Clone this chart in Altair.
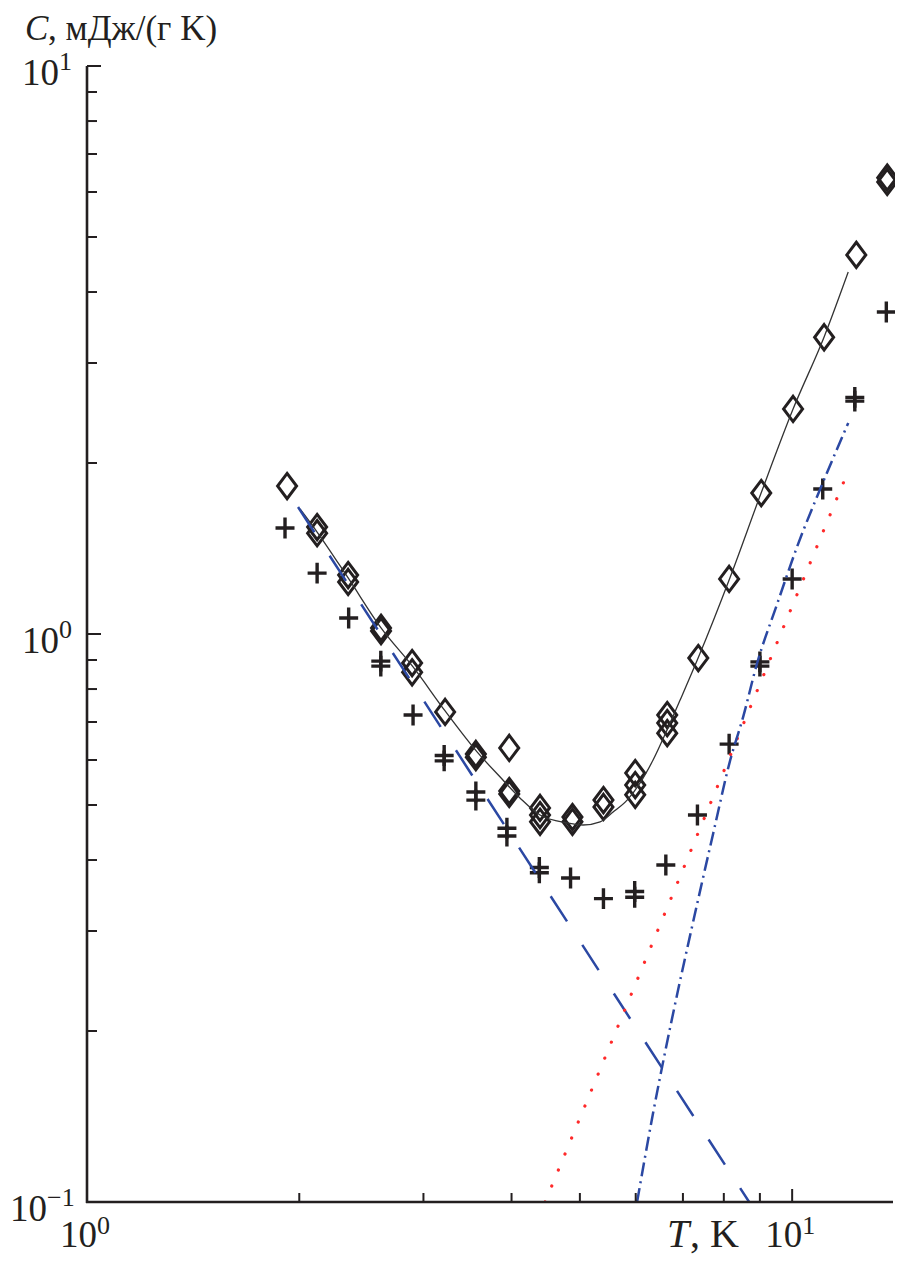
import altair as alt
import pandas as pd

FONT = "Liberation Serif"
INK = "#231f20"
BLUE = "#2b48a3"
RED = "#ff2a2a"

# --- measured points: diamonds (total heat capacity) ---
diamond_T = [1.922, 2.12, 2.12, 2.346, 2.346, 2.612, 2.612, 2.891, 2.891, 3.22,
             3.56, 3.56, 3.97, 3.97, 3.97, 4.39, 4.39, 4.39, 4.88, 4.88,
             5.40, 5.40, 5.99, 5.99, 5.99, 6.65, 6.65, 6.65, 7.36, 8.14,
             9.04, 10.03, 11.1, 12.33, 13.64, 13.64]
diamond_C = [1.822, 1.543, 1.505, 1.270, 1.235, 1.025, 1.012, 0.889, 0.856, 0.729,
             0.615, 0.607, 0.630, 0.529, 0.523, 0.494, 0.480, 0.467, 0.476, 0.467,
             0.510, 0.496, 0.569, 0.542, 0.521, 0.720, 0.697, 0.669, 0.907, 1.25,
             1.771, 2.49, 3.33, 4.65, 6.36, 6.25]

# --- measured points: crosses ---
plus_T = [1.909, 2.12, 2.35, 2.61, 2.61, 2.90, 3.21, 3.21, 3.56, 3.56,
          3.94, 3.94, 4.38, 4.38, 4.85, 5.40, 5.98, 5.98, 6.62, 7.34,
          8.14, 9.0, 9.0, 10.0, 11.05, 12.27, 12.27, 13.6]
plus_C = [1.537, 1.28, 1.067, 0.896, 0.878, 0.720, 0.611, 0.598, 0.527, 0.510,
          0.455, 0.441, 0.388, 0.380, 0.372, 0.342, 0.352, 0.344, 0.392, 0.480,
          0.640, 0.893, 0.878, 1.25, 1.80, 2.61, 2.57, 3.69]

# --- solid fit curve ---
fit_T = [2.005, 2.120, 2.346, 2.612, 2.900, 3.220, 3.574, 3.854, 4.114, 4.390,
         4.796, 5.052, 5.342, 5.573, 5.834, 6.087, 6.350, 6.647, 6.936, 7.356,
         8.170, 9.036, 10.03, 11.10, 12.01]
fit_C = [1.660, 1.512, 1.255, 1.025, 0.875, 0.732, 0.620, 0.560, 0.514, 0.480,
         0.465, 0.461, 0.467, 0.486, 0.510, 0.547, 0.600, 0.678, 0.765, 0.907,
         1.260, 1.771, 2.489, 3.334, 4.339]

# --- blue dashed component ---
dash_T = [1.992, 8.69]
dash_C = [1.673, 0.1]

# --- red dotted component ---
dot_T = [4.463, 12.01]
dot_C = [0.1, 1.936]

# --- blue dash-dot component ---
dashdot_T = [6.027, 6.35, 6.60, 6.89, 7.21, 7.73, 8.17, 8.52, 8.92, 9.5, 10.16, 11.0, 12.01]
dashdot_C = [0.1, 0.1434, 0.1829, 0.2361, 0.3049, 0.4464, 0.600, 0.714, 0.889, 1.12, 1.423, 1.82, 2.352]

# --- ticks and labels ---
y_minor = [0.2, 0.3, 0.4, 0.5, 0.6, 0.7, 0.8, 0.9, 2, 3, 4, 5, 6, 7, 8, 9]
y_major = [1, 10]
x_minor = [2, 3, 4, 5, 6, 7, 8, 9]
x_major = [10]
x_label_vals = [1, 10]
x_label_exp = ["0", "1"]
y_label_vals = [0.1, 1, 10]
y_label_exp = ["\u22121", "0", "1"]

W, H = 806, 1136
xs = alt.Scale(type="log", domain=[1, 13.9], nice=False)
ys = alt.Scale(type="log", domain=[0.1, 10], nice=False)

diamond_path = "M0,-1.33L1,0L0,1.33L-1,0Z"
plus_path = "M-1,0L1,0M0,-1.1L0,1.1"

df_d = pd.DataFrame({"T": diamond_T, "C": diamond_C})
df_p = pd.DataFrame({"T": plus_T, "C": plus_C})
df_fit = pd.DataFrame({"T": fit_T, "C": fit_C})
df_dash = pd.DataFrame({"T": dash_T, "C": dash_C})
df_dot = pd.DataFrame({"T": dot_T, "C": dot_C})
df_dd = pd.DataFrame({"T": dashdot_T, "C": dashdot_C})


def xy():
    return dict(x=alt.X("T:Q", scale=xs, axis=None), y=alt.Y("C:Q", scale=ys, axis=None))


fit = alt.Chart(df_fit).mark_line(color="#333333", strokeWidth=1.3, clip=True,
                                  interpolate="monotone").encode(**xy(), order="T:Q")

diamonds = alt.Chart(df_d).mark_point(shape=diamond_path, filled=False, color=INK,
                                      strokeWidth=3, size=361, opacity=1).encode(**xy())
pluses = alt.Chart(df_p).mark_point(shape=plus_path, filled=False, color=INK,
                                    strokeWidth=3.4, size=361, opacity=1).encode(**xy())

dashed = alt.Chart(df_dash).mark_line(color=BLUE, strokeWidth=2.5, strokeDash=[30, 28],
                                      clip=True).encode(**xy())
dotted = alt.Chart(df_dot).mark_line(color=RED, strokeWidth=3.2, strokeDash=[0.1, 17.2],
                                     strokeCap="round", clip=True).encode(**xy())
dashdot = alt.Chart(df_dd).mark_line(color=BLUE, strokeWidth=2.5, strokeDash=[14, 5, 2, 5],
                                     clip=True, interpolate="monotone").encode(**xy(), order="T:Q")

# axis lines
one = pd.DataFrame({"a": [0]})
y_axis_line = alt.Chart(one).mark_rule(color=INK, strokeWidth=2.6).encode(
    x=alt.value(0), y=alt.value(0), y2=alt.value(H + 1))
x_axis_line = alt.Chart(one).mark_rule(color=INK, strokeWidth=2.6).encode(
    x=alt.value(-1), x2=alt.value(W), y=alt.value(H))

# tick marks (inward)
ytm = alt.Chart(pd.DataFrame({"v": y_minor})).mark_rule(color=INK, strokeWidth=2).encode(
    y=alt.Y("v:Q", scale=ys, axis=None), x=alt.value(0), x2=alt.value(10))
ytM = alt.Chart(pd.DataFrame({"v": y_major})).mark_rule(color=INK, strokeWidth=2).encode(
    y=alt.Y("v:Q", scale=ys, axis=None), x=alt.value(0), x2=alt.value(14))
xtm = alt.Chart(pd.DataFrame({"v": x_minor})).mark_rule(color=INK, strokeWidth=2).encode(
    x=alt.X("v:Q", scale=xs, axis=None), y=alt.value(H), y2=alt.value(H - 9))
xtM = alt.Chart(pd.DataFrame({"v": x_major})).mark_rule(color=INK, strokeWidth=2).encode(
    x=alt.X("v:Q", scale=xs, axis=None), y=alt.value(H), y2=alt.value(H - 13))

# tick labels: 10 with superscript exponent
df_xl = pd.DataFrame({"v": x_label_vals, "e": x_label_exp})
xl_base = alt.Chart(df_xl).mark_text(align="right", baseline="alphabetic", dx=10,
                                     font=FONT, fontSize=37, color=INK).encode(
    x=alt.X("v:Q", scale=xs, axis=None), y=alt.value(H + 45), text=alt.value("10"))
xl_exp = alt.Chart(df_xl).mark_text(align="left", baseline="alphabetic", dx=10,
                                    font=FONT, fontSize=26, color=INK).encode(
    x=alt.X("v:Q", scale=xs, axis=None), y=alt.value(H + 32), text="e:N")

df_yl = pd.DataFrame({"v": y_label_vals, "e": y_label_exp})
yl_base = alt.Chart(df_yl).transform_calculate(
    ex="-16 - 12 * length(datum.e)").mark_text(
    align="right", baseline="alphabetic", dy=19, font=FONT, fontSize=37, color=INK).encode(
    x=alt.X("ex:Q", scale=None), y=alt.Y("v:Q", scale=ys, axis=None), text=alt.value("10"))
yl_exp = alt.Chart(df_yl).transform_calculate(
    ex="-16 - 12 * length(datum.e)").mark_text(
    align="left", baseline="alphabetic", dy=4, font=FONT, fontSize=26, color=INK).encode(
    x=alt.X("ex:Q", scale=None), y=alt.Y("v:Q", scale=ys, axis=None), text="e:N")

# axis titles
yt_c = alt.Chart(one).mark_text(align="left", baseline="alphabetic", font=FONT, fontSize=35,
                                fontStyle="italic", color=INK, text="C").encode(
    x=alt.value(-62), y=alt.value(-26))
yt_rest = alt.Chart(one).mark_text(align="left", baseline="alphabetic", font=FONT, fontSize=35,
                                   color=INK, text=", мДж/(г K)").encode(
    x=alt.value(-39), y=alt.value(-26))
xt_t = alt.Chart(one).mark_text(align="left", baseline="alphabetic", font=FONT, fontSize=40,
                                fontStyle="italic", color=INK, text="T").encode(
    x=alt.value(580), y=alt.value(H + 45))
xt_rest = alt.Chart(one).mark_text(align="left", baseline="alphabetic", font=FONT, fontSize=40,
                                   color=INK, text=", K").encode(
    x=alt.value(603), y=alt.value(H + 45))

chart = alt.layer(
    diamonds, pluses, fit, dashed, dotted, dashdot,
    y_axis_line, x_axis_line, ytm, ytM, xtm, xtM, xl_base, xl_exp, yl_base, yl_exp,
    yt_c, yt_rest, xt_t, xt_rest,
).properties(
    width=W, height=H,
    padding={"left": 79, "top": 58, "right": 2, "bottom": 55},
    autosize=alt.AutoSizeParams(type="none"),
).configure_view(stroke=None)

chart.save("out.html", embed_options={"renderer": "svg", "actions": False})
